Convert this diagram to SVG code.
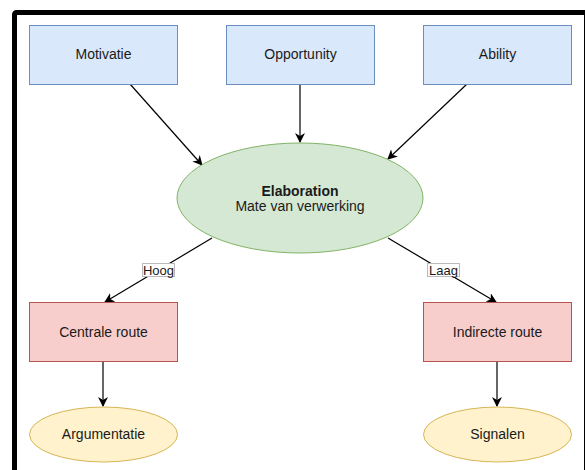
<svg xmlns="http://www.w3.org/2000/svg" width="585" height="470" viewBox="0 0 585 470">
<style>
text{font-family:"Liberation Sans",Arial,sans-serif;font-size:14px;fill:#1a1a1a;text-anchor:middle;dominant-baseline:central}
.blue{fill:#dae8fc;stroke:#6c8ebf;stroke-width:1}
.green{fill:#d5e8d4;stroke:#82b366;stroke-width:1}
.red{fill:#f8cecc;stroke:#b85450;stroke-width:1}
.yellow{fill:#fff2cc;stroke:#d6b656;stroke-width:1}
.edge{stroke:#000;stroke-width:1.2;fill:none;marker-end:url(#arr)}
.lbl{fill:#fff;stroke:#bbb;stroke-width:1}
.lt{font-size:13px}
</style>
<defs>
<marker id="arr" viewBox="0 0 10 10" refX="9" refY="5" markerWidth="10" markerHeight="10" markerUnits="userSpaceOnUse" orient="auto">
<path d="M0,0 L10,5 L0,10 L3,5 z" fill="#000"/>
</marker>
</defs>
<rect x="14.5" y="12.5" width="572" height="470" rx="2" fill="#fff" stroke="#000" stroke-width="5"/>
<g id="connectors">
<line class="edge" x1="130" y1="84" x2="202" y2="165"/>
<line class="edge" x1="300" y1="84" x2="300" y2="142"/>
<line class="edge" x1="467" y1="84" x2="388" y2="159"/>
<line class="edge" x1="212" y1="238" x2="105" y2="302"/>
<line class="edge" x1="388" y1="238" x2="496" y2="302"/>
<line class="edge" x1="103" y1="362" x2="103" y2="406"/>
<line class="edge" x1="497" y1="362" x2="497" y2="406"/>
<g id="label-hoog"><rect class="lbl" x="142.5" y="263.5" width="32" height="13"/><text class="lt" x="158.5" y="270">Hoog</text></g>
<g id="label-laag"><rect class="lbl" x="427.5" y="263.5" width="32" height="13"/><text class="lt" x="443.5" y="270">Laag</text></g>
</g>
<g id="motivatie"><rect class="blue" x="29.5" y="25.5" width="148" height="59"/><text x="103.5" y="54">Motivatie</text></g>
<g id="opportunity"><rect class="blue" x="226.5" y="25.5" width="148" height="59"/><text x="300.5" y="54">Opportunity</text></g>
<g id="ability"><rect class="blue" x="423.5" y="25.5" width="148" height="59"/><text x="497.5" y="54">Ability</text></g>
<g id="elaboration"><ellipse class="green" cx="300" cy="198" rx="123" ry="55"/><text x="300" y="191" font-weight="bold">Elaboration</text><text x="300" y="206">Mate van verwerking</text></g>
<g id="centrale"><rect class="red" x="29.5" y="302.5" width="148" height="59"/><text x="103.5" y="332">Centrale route</text></g>
<g id="indirecte"><rect class="red" x="423.5" y="302.5" width="148" height="59"/><text x="497.5" y="332">Indirecte route</text></g>
<g id="argumentatie"><ellipse class="yellow" cx="103.5" cy="434.5" rx="74" ry="27.5"/><text x="103.5" y="434">Argumentatie</text></g>
<g id="signalen"><ellipse class="yellow" cx="497.5" cy="434.5" rx="74" ry="27.5"/><text x="497.5" y="434">Signalen</text></g>
</svg>
